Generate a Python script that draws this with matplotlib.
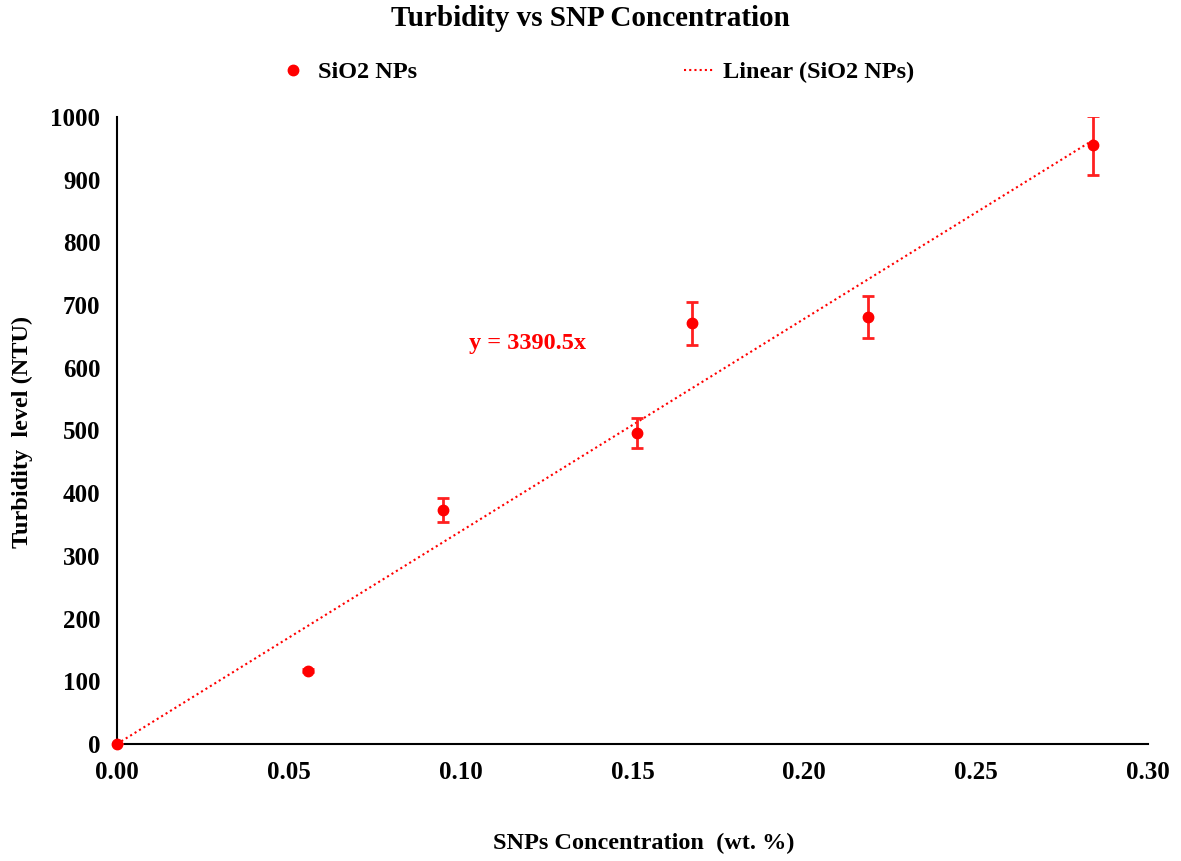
import matplotlib
matplotlib.use("Agg")
import matplotlib.pyplot as plt
import numpy as np
from matplotlib.lines import Line2D

conc = [0.0, 0.0556, 0.095, 0.1513, 0.1673, 0.2185, 0.284]
turb = [0, 117, 373, 496, 671, 681, 955]
err = [0, 2, 19, 24, 34, 34, 47]
slope = 3390.5

plt.rcParams['font.family'] = ['Liberation Serif', 'DejaVu Serif']
plt.rcParams['font.weight'] = 'bold'

fig = plt.figure(figsize=(11.81, 8.61), dpi=100)
ax = fig.add_axes([0.099, 0.1359, 0.873, 0.7283])

red = '#ff0000'
xs = np.array([0.0, max(conc)])
ax.plot(xs, slope * xs, linestyle=(0, (1, 1.5)), color=red, linewidth=1.5, zorder=2)
eb = ax.errorbar(conc, turb, yerr=err, fmt='o', color=red, ecolor='#ff2020',
                 markersize=7.5, elinewidth=2, capsize=4.5, capthick=2, zorder=3)
eb.lines[0].set_clip_on(False)

ax.set_xlim(0, 0.30)
ax.set_ylim(0, 1000)
ax.set_xticks(np.arange(0, 0.301, 0.05))
ax.set_xticklabels([f"{v:.2f}" for v in np.arange(0, 0.301, 0.05)])
ax.set_yticks(np.arange(0, 1001, 100))
ax.tick_params(length=0, labelsize=18, pad=12)
for lab in ax.get_xticklabels() + ax.get_yticklabels():
    lab.set_fontweight('bold')
for s in ['top', 'right']:
    ax.spines[s].set_visible(False)
for s in ['left', 'bottom']:
    ax.spines[s].set_linewidth(1.5)
    ax.spines[s].set_color('black')

fig.text(0.545, 1 - 843 / 861, 'SNPs Concentration  (wt. %)', ha='center', va='center',
         fontsize=17.5, fontweight='bold')
fig.text(22 / 1181, 1 - 432 / 861, 'Turbidity  level (NTU)', ha='center', va='center',
         rotation=90, fontsize=17.5, fontweight='bold')
ax.text(0.1025, 630, 'y = 3390.5x', color=red, fontsize=17.5, fontweight='bold')

fig.text(0.5, 1 - 18 / 861, 'Turbidity vs SNP Concentration', ha='center', va='center',
         fontsize=21, fontweight='bold')

h1 = Line2D([], [], marker='o', linestyle='none', color=red, markersize=7.5)
h2 = Line2D([], [], linestyle=(0, (1, 1.5)), color=red, linewidth=1.5)
fig.legend([h1, h2], ['SiO2 NPs', 'Linear (SiO2 NPs)'], loc='center',
           bbox_to_anchor=(0.505, 0.916), ncol=2, frameon=False,
           columnspacing=11.0, handlelength=1.2, handletextpad=0.4,
           prop={'weight': 'bold', 'size': 17.5})

fig.savefig('out.png', dpi=100)
